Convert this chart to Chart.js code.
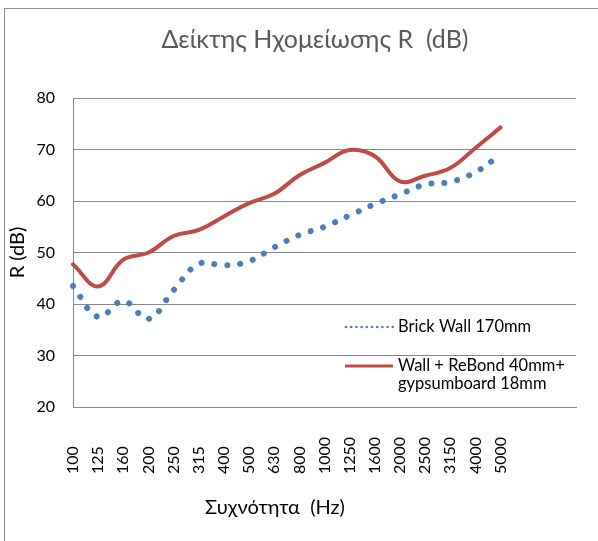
<!DOCTYPE html>
<html>
<head>
<meta charset="utf-8">
<script src="https://cdn.jsdelivr.net/npm/chart.js@4.4.1/dist/chart.umd.min.js"></script>
<style>
  body { margin: 0; background: #fff; }
  #wrap { position: relative; width: 598px; height: 541px; overflow: hidden; }
  #frame { position: absolute; left: 4px; top: 8px; width: 700px; height: 700px; border: 1px solid #8c8c8c; }
  canvas { position: absolute; left: 0; top: 0; }
</style>
</head>
<body>
<div id="wrap">
  <div id="frame"></div>
  <canvas id="c" width="598" height="541"></canvas>
</div>
<script>
// 1/3 octave bands (Hz)
const freqs = ['100', '125', '160', '200', '250', '315', '400', '500', '630', '800',
               '1000', '1250', '1600', '2000', '2500', '3150', '4000', '5000'];
const spareSlots = ['', '', ''];

// R (dB)
const brickWall = [43.5, 37.5, 40.6, 37.1, 42.7, 47.8, 47.5, 48.3, 51.0, 53.4,
                   55.0, 57.2, 59.4, 61.3, 63.2, 63.7, 65.6, 69.0];
const rebond = [47.7, 43.4, 48.6, 50.0, 53.2, 54.4, 57.0, 59.6, 61.4, 65.0,
                67.4, 69.9, 68.7, 63.8, 64.9, 66.4, 70.3, 74.3];

const yTicks = [20, 30, 40, 50, 60, 70, 80];

const chartTitle = 'Δείκτης Ηχομείωσης R  (dB)';
const xTitle = 'Συχνότητα  (Hz)';
const yTitle = 'R (dB)';
const legendLabels = [['Brick Wall 170mm'], ['Wall + ReBond 40mm+', 'gypsumboard 18mm']];

const FONT = 'Lato';
const BLUE = '#4a7ebb';
const RED = '#be4b48';
const GRID = '#878787';

// title, x axis title and the in-plot legend
const overlay = {
  id: 'overlay',
  afterDraw(chart) {
    const ctx = chart.ctx;
    ctx.save();
    ctx.textBaseline = 'middle';

    ctx.fillStyle = '#595959';
    ctx.font = '25px ' + FONT;
    ctx.textAlign = 'center';
    ctx.fillText(chartTitle, 315, 40);

    ctx.fillStyle = '#000';
    ctx.font = '20px ' + FONT;
    ctx.fillText(xTitle, 275, 508);

    // legend
    ctx.textAlign = 'left';
    ctx.font = '16.5px ' + FONT;
    // blue dotted sample
    ctx.fillStyle = BLUE;
    for (let x = 346; x <= 393; x += 5.2) {
      ctx.beginPath();
      ctx.arc(x, 327, 1.3, 0, Math.PI * 2);
      ctx.fill();
    }
    ctx.fillStyle = '#000';
    ctx.fillText(legendLabels[0][0], 398, 327);

    // red sample
    ctx.strokeStyle = RED;
    ctx.lineWidth = 3;
    ctx.beginPath();
    ctx.moveTo(345, 366);
    ctx.lineTo(393, 366);
    ctx.stroke();
    ctx.fillStyle = '#000';
    ctx.fillText(legendLabels[1][0], 398, 366);
    ctx.fillText(legendLabels[1][1], 398, 384);
    ctx.restore();
  }
};

function draw() {
  new Chart(document.getElementById('c'), {
    type: 'line',
    data: {
      labels: freqs.concat(spareSlots),
      datasets: [
        {
          label: legendLabels[0].join(' '),
          data: brickWall,
          borderColor: BLUE,
          borderWidth: 6,
          borderDash: [0.01, 13],
          borderCapStyle: 'round',
          pointRadius: 0,
          tension: 0.4,
          fill: false
        },
        {
          label: legendLabels[1].join(' '),
          data: rebond,
          borderColor: RED,
          borderWidth: 4,
          borderCapStyle: 'round',
          pointRadius: 0,
          tension: 0.4,
          fill: false
        }
      ]
    },
    options: {
      responsive: false,
      animation: false,
      layout: { padding: { top: 98, right: 22, left: 0, bottom: 0 } },
      plugins: {
        legend: { display: false },
        title: { display: false },
        tooltip: { enabled: false }
      },
      scales: {
        x: {
          offset: false,
          grid: { display: false, drawTicks: false },
          border: { display: true, color: GRID },
          ticks: {
            autoSkip: false,
            minRotation: 90,
            maxRotation: 90,
            padding: 30,
            color: '#000',
            font: { family: FONT, size: 16 },
            callback(v) {
              const s = this.getLabelForValue(v);
              return s.length === 3 ? s + '\u2007' : s;
            }
          },
          afterFit(scale) {
            scale.height = 134;
            scale.paddingLeft = 0;
            scale.paddingRight = 0;
          }
        },
        y: {
          min: 20,
          max: 80,
          afterBuildTicks(scale) { scale.ticks = yTicks.map(v => ({ value: v })); },
          grid: { color: GRID, drawTicks: false },
          border: { display: true, color: GRID },
          ticks: {
            padding: 18,
            color: '#000',
            font: { family: FONT, size: 16 }
          },
          title: {
            display: true,
            text: yTitle,
            color: '#000',
            font: { family: FONT, size: 20 },
            padding: { top: 6, bottom: 0 }
          },
          afterFit(scale) { scale.width = 73; }
        }
      }
    },
    plugins: [overlay]
  });
}

if (document.fonts && document.fonts.load) {
  document.fonts.load('16px ' + FONT).then(draw, draw);
} else {
  draw();
}
</script>
</body>
</html>
